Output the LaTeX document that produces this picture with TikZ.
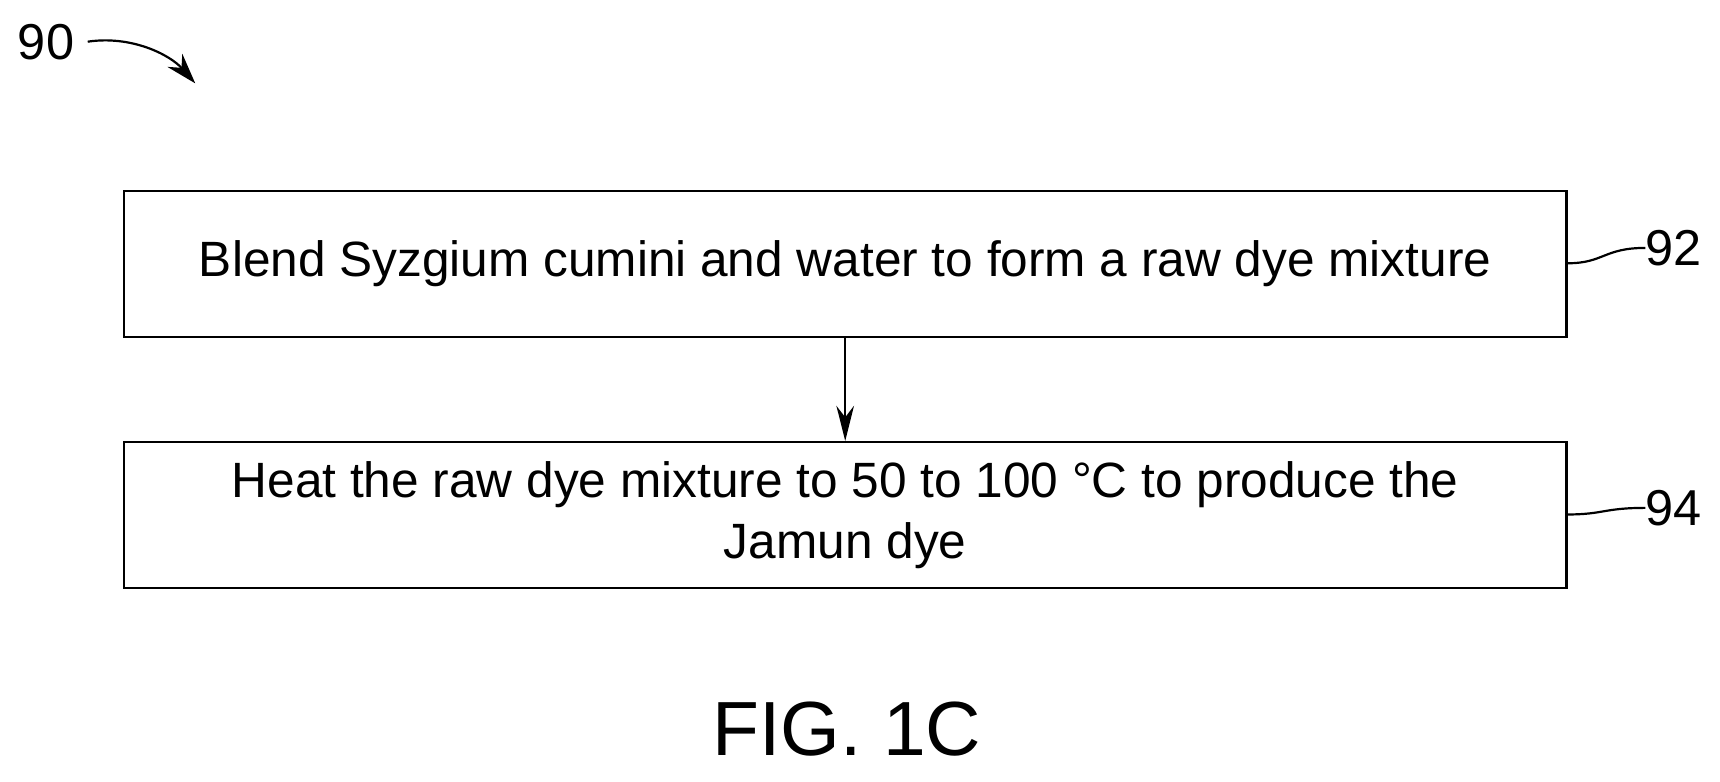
\documentclass[tikz,border=0pt]{standalone}
\usepackage{fontspec}
\setmainfont{Liberation Sans}
\usetikzlibrary{arrows.meta}
\begin{document}
\begin{tikzpicture}[x=0.5pt,y=-0.5pt]
  \tikzstyle{stepbox}=[draw,line width=1pt,minimum width=657.5pt,minimum height=66.5pt,
    align=center,font=\fontsize{22.6}{27.5}\selectfont,inner sep=0pt]
  \tikzstyle{ref}=[font=\fontsize{23}{25}\selectfont,inner sep=0pt]
  \useasboundingbox (0,0) rectangle (1568,712);
  % steps
  \node [stepbox] (s92) at (770.5,240.5) {Blend Syzgium cumini and water to form a raw dye mixture};
  \node [stepbox] (s94) at (770.5,469.5) {Heat the raw dye mixture to 50 to 100 \textdegree C to produce the\\Jamun dye};
  \draw [line width=1pt,-{Stealth[length=16pt,width=8pt]}] (s92) -- (s94);
  % reference numerals
  \node [ref,anchor=west] (n92) at (1500,226) {92};
  \node [ref,anchor=west] (n94) at (1500,463) {94};
  \draw [line width=1pt] (s92.east |- 0,240) .. controls (1462,240) and (1462,226) .. (n92.west);
  \draw [line width=1pt] (s94.east |- 0,469) .. controls (1462,469) and (1462,463) .. (n94.west);
  \node [ref,anchor=west] (n90) at (16,38) {90};
  \coordinate (a90) at (178,76);
  \draw [line width=1pt,-{Stealth[length=14pt,width=9pt]}] ([xshift=6pt]n90.east) .. controls (120,32) and (155,50) .. (a90);
  % caption
  \node [font=\fontsize{35}{38}\selectfont,inner sep=0pt] (cap) at (772,665) {FIG. 1C};
\end{tikzpicture}
\end{document}
